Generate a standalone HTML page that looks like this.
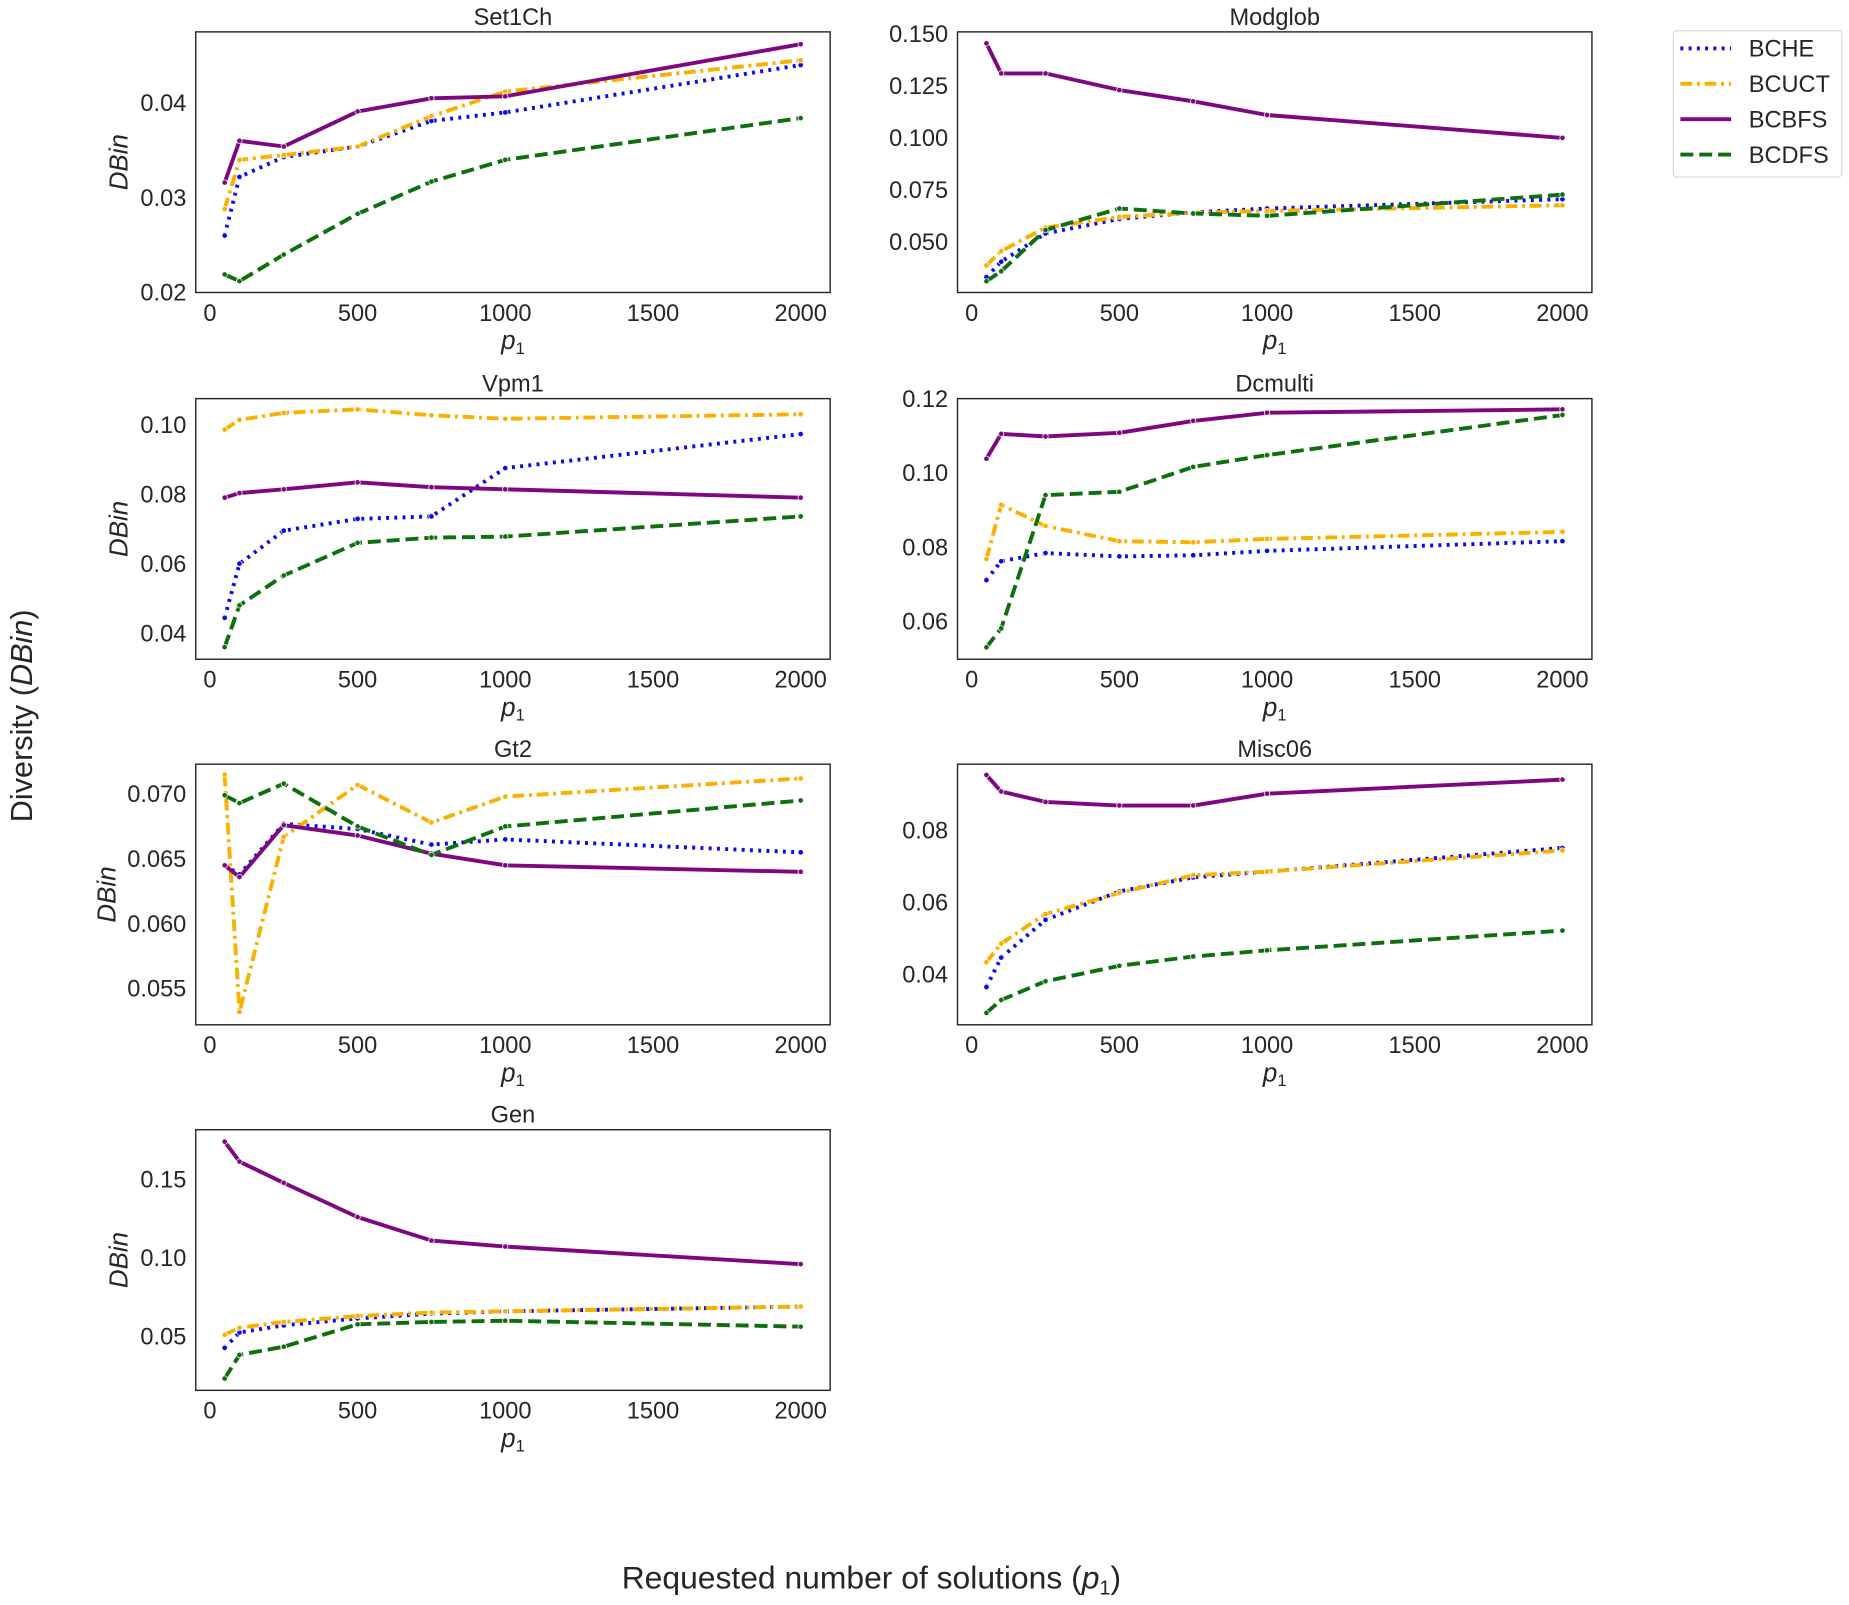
<!DOCTYPE html>
<html><head><meta charset="utf-8"><style>
html,body{margin:0;padding:0;background:#fff}
svg{display:block;font-family:"Liberation Sans",Arial,sans-serif}
</style></head><body>
<svg id="fig" width="1849" height="1605" viewBox="0 0 1568 1361" xmlns="http://www.w3.org/2000/svg"></svg>
<script>
const xVals = [50,100,250,500,750,1000,2000];
const xTicks = [0,500,1000,1500,2000];
const seriesNames = ["BCHE","BCUCT","BCBFS","BCDFS"];
const panelTitles = ["Set1Ch","Modglob","Vpm1","Dcmulti","Gt2","Misc06","Gen"];

const set1chHE = [0.026,0.0322,0.0343,0.0354,0.0381,0.039,0.044];
const set1chUCT = [0.0288,0.034,0.0345,0.0354,0.0386,0.0412,0.0445];
const set1chBFS = [0.0316,0.036,0.0354,0.0391,0.0405,0.0407,0.0462];
const set1chDFS = [0.0219,0.0212,0.024,0.0283,0.0317,0.034,0.0384];
const set1chTicks = [0.02,0.03,0.04];

const modglobHE = [0.033,0.0404,0.054,0.061,0.0642,0.066,0.0705];
const modglobUCT = [0.0386,0.0455,0.0568,0.062,0.064,0.0648,0.0676];
const modglobBFS = [0.1455,0.131,0.131,0.123,0.1176,0.111,0.100];
const modglobDFS = [0.031,0.0358,0.0557,0.066,0.0636,0.0625,0.0727];
const modglobTicks = [0.05,0.075,0.1,0.125,0.15];

const vpm1HE = [0.0444,0.06,0.0695,0.0729,0.0736,0.0875,0.0973];
const vpm1UCT = [0.0986,0.1014,0.1034,0.1044,0.1027,0.1017,0.103];
const vpm1BFS = [0.079,0.0803,0.0814,0.0834,0.082,0.0814,0.079];
const vpm1DFS = [0.036,0.048,0.0566,0.066,0.0675,0.0678,0.0736];
const vpm1Ticks = [0.04,0.06,0.08,0.10];

const dcmultiHE = [0.0711,0.0762,0.0784,0.0775,0.0778,0.079,0.0816];
const dcmultiUCT = [0.0768,0.0914,0.0857,0.0816,0.0813,0.0822,0.0841];
const dcmultiBFS = [0.1038,0.1105,0.1098,0.1108,0.114,0.1162,0.1171];
const dcmultiDFS = [0.053,0.0581,0.094,0.0949,0.1016,0.1048,0.1156];
const dcmultiTicks = [0.06,0.08,0.10,0.12];

const gt2HE = [0.0645,0.0638,0.0677,0.0673,0.0661,0.0665,0.0655];
const gt2UCT = [0.0715,0.0532,0.0667,0.0707,0.0678,0.0698,0.0712];
const gt2BFS = [0.0645,0.0636,0.0676,0.0668,0.0654,0.0645,0.064];
const gt2DFS = [0.0699,0.0693,0.0708,0.0675,0.0653,0.0675,0.0695];
const gt2Ticks = [0.055,0.060,0.065,0.070];

const misc06HE = [0.0364,0.0446,0.0551,0.063,0.0669,0.0685,0.0751];
const misc06UCT = [0.0433,0.0485,0.0567,0.0626,0.0675,0.0685,0.0744];
const misc06BFS = [0.0954,0.0908,0.0879,0.0869,0.0869,0.0902,0.0941];
const misc06DFS = [0.0292,0.0328,0.038,0.0423,0.0449,0.0466,0.0521];
const misc06Ticks = [0.04,0.06,0.08];

const genHE = [0.0425,0.0523,0.0568,0.0613,0.0643,0.0658,0.0688];
const genUCT = [0.0508,0.0553,0.059,0.0628,0.065,0.0658,0.0688];
const genBFS = [0.174,0.1613,0.1477,0.1259,0.1109,0.1071,0.0959];
const genDFS = [0.0229,0.038,0.0432,0.0575,0.059,0.0598,0.056];
const genTicks = [0.05,0.10,0.15];

const NS="http://www.w3.org/2000/svg";
const svg=document.getElementById('fig');
function mk(tag,attrs,parent){const e=document.createElementNS(NS,tag);for(const k in attrs)e.setAttribute(k,attrs[k]);(parent||svg).appendChild(e);return e;}

const styles=[
 {c:"#0a0ae6",dash:"2.5 4.5",cap:"butt"},
 {c:"#f9b000",dash:"10 4 2.5 4",cap:"butt"},
 {c:"#7d0880",dash:"",cap:"butt"},
 {c:"#0d700d",dash:"11 5",cap:"butt"}
];

const panels=[
 {title:panelTitles[0],d:[set1chHE,set1chUCT,set1chBFS,set1chDFS],ticks:set1chTicks,ymin:0.02,ymax:0.0475,dec:2,col:0,row:0},
 {title:panelTitles[1],d:[modglobHE,modglobUCT,modglobBFS,modglobDFS],ticks:modglobTicks,ymin:0.0256,ymax:0.151,dec:3,col:1,row:0},
 {title:panelTitles[2],d:[vpm1HE,vpm1UCT,vpm1BFS,vpm1DFS],ticks:vpm1Ticks,ymin:0.0325,ymax:0.1075,dec:2,col:0,row:1},
 {title:panelTitles[3],d:[dcmultiHE,dcmultiUCT,dcmultiBFS,dcmultiDFS],ticks:dcmultiTicks,ymin:0.0498,ymax:0.1200,dec:2,col:1,row:1},
 {title:panelTitles[4],d:[gt2HE,gt2UCT,gt2BFS,gt2DFS],ticks:gt2Ticks,ymin:0.0522,ymax:0.0723,dec:3,col:0,row:2},
 {title:panelTitles[5],d:[misc06HE,misc06UCT,misc06BFS,misc06DFS],ticks:misc06Ticks,ymin:0.0259,ymax:0.0984,dec:2,col:1,row:2},
 {title:panelTitles[6],d:[genHE,genUCT,genBFS,genDFS],ticks:genTicks,ymin:0.0154,ymax:0.1816,dec:2,col:0,row:3}
];
const colX=[166,812], rowY=[27,338,648,958], W=538, H=221;

panels.forEach(p=>{
  const L=colX[p.col], T=rowY[p.row], B=T+H, R=L+W;
  const g=mk('g',{});
  
  
  const xs=v=>L+12+(v/2000)*501;
  const ys=v=>B-(v-p.ymin)/(p.ymax-p.ymin)*H;
  const t=mk('text',{x:L+W/2,y:T-6,'text-anchor':'middle','font-size':20,fill:'#262626'},g);
  t.textContent=p.title;
  
  
  xTicks.forEach(v=>{
    const tx=mk('text',{x:xs(v),y:B+24,'text-anchor':'middle','font-size':20,fill:'#262626'},g);
    tx.textContent=v;
    
    
  });
  p.ticks.forEach(v=>{
    const ty=mk('text',{x:L-8,y:ys(v)+7,'text-anchor':'end','font-size':20,fill:'#262626'},g);
    ty.textContent=v.toFixed(p.dec);
    
    
  });
  const xl=mk('text',{x:L+W/2,y:B+48,'text-anchor':'middle','font-size':22,'font-style':'italic',fill:'#262626'},g);
  xl.innerHTML='p<tspan font-size="14" dy="4" font-style="normal">1</tspan>';
  
  
  if(p.col===0){
    const yx = p.row===2?98:108;
    const yl=mk('text',{x:yx,y:T+H/2,'text-anchor':'middle','font-size':22,'font-style':'italic',fill:'#262626',transform:`rotate(-90 ${yx} ${T+H/2})`},g);
    yl.textContent='DBin';
    
    
  }
  p.d.forEach((arr,si)=>{
    const s=styles[si];
    const pts=arr.map((v,i)=>xs(xVals[i]).toFixed(1)+','+ys(v).toFixed(1)).join(' ');
    const pl=mk('polyline',{points:pts,fill:'none',stroke:s.c,'stroke-width':3.3,'stroke-dasharray':s.dash,'stroke-linecap':s.cap,'stroke-linejoin':'round'},g);
    
    
    arr.forEach((v,i)=>{
      const c=mk('circle',{cx:xs(xVals[i]),cy:ys(v),r:2.3,fill:s.c,stroke:'#fff','stroke-width':0.6},g);
      
      
    });
  });
  const fr=mk('rect',{x:L,y:T,width:W,height:H,fill:'none',stroke:'#262626','stroke-width':1.2},g);
  
  
});

// legend
const lg=mk('g',{});


const lr=mk('rect',{x:1419,y:26,width:143,height:124,rx:3,fill:'#fff',stroke:'#d8d8d8','stroke-width':1},lg);


seriesNames.forEach((n,i)=>{
  const y=41+i*30, s=styles[i];
  const ln=mk('line',{x1:1425,y1:y,x2:1468,y2:y,stroke:s.c,'stroke-width':3.3,'stroke-dasharray':s.dash},lg);
  
  
  const tx=mk('text',{x:1483,y:y+7,'font-size':20,fill:'#262626'},lg);
  tx.textContent=n;
  
  
});

const sy=mk('text',{x:27,y:607,'text-anchor':'middle','font-size':26,fill:'#262626',transform:'rotate(-90 27 607)'});
sy.innerHTML='Diversity (<tspan font-style="italic">DBin</tspan>)';


const sx=mk('text',{x:739,y:1347,'text-anchor':'middle','font-size':27,fill:'#262626'});
sx.innerHTML='Requested number of solutions (<tspan font-style="italic">p</tspan><tspan font-size="17" dy="5">1</tspan><tspan dy="-5">)</tspan>';


</script>
</body></html>
